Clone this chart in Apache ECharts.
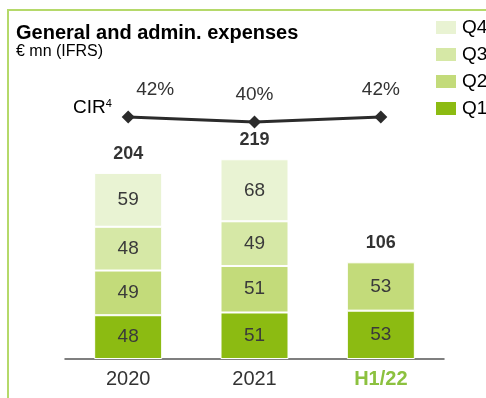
<!DOCTYPE html>
<html><head><meta charset="utf-8">
<script src="https://cdn.jsdelivr.net/npm/echarts@6/dist/echarts.min.js"></script>
<style>html,body{margin:0;padding:0;background:#fff}#c{width:486px;height:398px}</style>
</head><body><div id="c"></div>
<script>
const categories = ['2020', '2021', 'H1/22'];
const q1 = [48, 51, 53];
const q2 = [49, 51, 53];
const q3 = [48, 49, null];
const q4 = [59, 68, null];
const totals = [204, 219, 106];
const cir = [42, 40, 42];
const cirLabels = ['42%', '40%', '42%'];

const colors = {Q1:'#8cbb12', Q2:'#c3db7a', Q3:'#d6e8a6', Q4:'#e9f3d3'};
const font = 'Liberation Sans, Arial, sans-serif';
const chart = echarts.init(document.getElementById('c'));

function barSeries(name, data){
  return {
    name, type:'bar', stack:'g', data, xAxisIndex:0, yAxisIndex:0,
    barWidth:68,
    itemStyle:{color:colors[name], borderColor:'#fff', borderWidth:1},
    label:{show:true, position:'inside', color:'#3a3a3a', fontSize:19, fontFamily:font},
    silent:true
  };
}

chart.setOption({
  animation:false,
  textStyle:{fontFamily:font},
  legend:{
    orient:'vertical', left:434, top:18, padding:0, itemWidth:22, itemHeight:15, itemGap:8,
    icon:'rect', data:['Q4','Q3','Q2','Q1'],
    textStyle:{fontSize:19, color:'#000', fontFamily:font, padding:[0,0,0,0]},
    selectedMode:false
  },
  grid:[
    {left:65, right:42, top:131, bottom:39},
    {left:65, right:42, top:107, height:20}
  ],
  xAxis:[
    {type:'category', gridIndex:0, data:categories,
     axisLine:{lineStyle:{color:'#555', width:1.5}}, axisTick:{show:false},
     axisLabel:{fontSize:20, color:'#333', margin:10, fontFamily:font,
       formatter:(v)=> v==='H1/22' ? '{h|'+v+'}' : v,
       rich:{h:{fontSize:20, fontWeight:'bold', color:'#8cc13f', fontFamily:font}}}},
    {type:'category', gridIndex:1, data:categories, show:false}
  ],
  yAxis:[
    {type:'value', gridIndex:0, min:0, max:250, show:false},
    {type:'value', gridIndex:1, min:38, max:46, show:false}
  ],
  graphic:[
    {type:'rect', shape:{x:8, y:10, width:500, height:420}, style:{fill:'none', stroke:'#b5d96a', lineWidth:2}, silent:true},
    {type:'text', left:16, top:23, style:{text:'General and admin. expenses', font:'bold 20px '+font, fill:'#000'}},
    {type:'text', left:16, top:44, style:{text:'€ mn (IFRS)', font:'16px '+font, fill:'#000'}},
    {type:'text', left:73, top:98, style:{text:'{a|CIR}{s|4}', rich:{a:{fontSize:19, fontFamily:font, color:'#333'}, s:{fontSize:11, fontFamily:font, color:'#333', verticalAlign:'top', padding:[0,0,9,0]}}}}
  ],
  series:[
    barSeries('Q1', q1), barSeries('Q2', q2), barSeries('Q3', q3), barSeries('Q4', q4),
    {type:'scatter', xAxisIndex:0, yAxisIndex:0, data:totals, symbolSize:0, silent:true,
     label:{show:true, position:'top', distance:10, fontSize:18, fontWeight:'bold', color:'#000', fontFamily:font}},
    {type:'line', xAxisIndex:1, yAxisIndex:1, silent:true,
     data:cir.map((v,i)=>({value:v, label:{formatter:cirLabels[i], offset: i===0 ? [27,0] : [0,0]}})),
     symbol:'diamond', symbolSize:13, itemStyle:{color:'#2b2b2b'},
     lineStyle:{color:'#2b2b2b', width:3},
     label:{show:true, position:'top', distance:11, fontSize:19, color:'#333', fontFamily:font}}
  ]
});
</script></body></html>
